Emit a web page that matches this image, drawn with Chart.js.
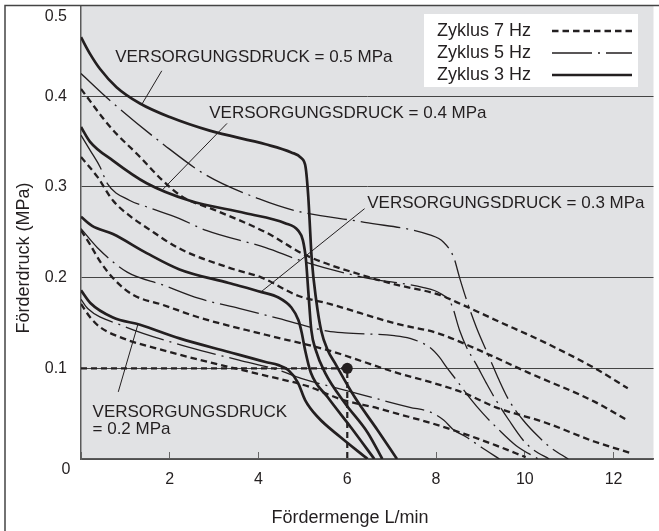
<!DOCTYPE html>
<html>
<head>
<meta charset="utf-8">
<script src="https://cdn.jsdelivr.net/npm/chart.js@4/dist/chart.umd.min.js"></script>
<style>
  html, body { margin: 0; padding: 0; background: #fff; }
  canvas { display: block; }
</style>
</head>
<body>
<canvas id="myChart" width="659" height="531"></canvas>
<script>
// points are [Fördermenge L/min, Förderdruck MPa]
const p05_3hz = [[0, 0.465], [0.2, 0.447], [0.43, 0.43], [0.8, 0.41], [1.33, 0.392], [2.0, 0.377], [2.9, 0.362], [4.16, 0.347], [4.74, 0.338], [4.96, 0.332], [5.06, 0.322], [5.12, 0.29], [5.2, 0.22], [5.3, 0.175], [5.41, 0.142], [5.56, 0.12], [5.72, 0.106], [6.17, 0.068], [6.68, 0.032], [7.12, 0]];
const p04_3hz = [[0, 0.366], [0.2, 0.35], [0.72, 0.329], [1.48, 0.304], [2.44, 0.285], [3.71, 0.271], [4.6, 0.26], [4.89, 0.252], [5.0, 0.241], [5.07, 0.219], [5.12, 0.186], [5.19, 0.142], [5.29, 0.12], [5.5, 0.095], [5.94, 0.062], [6.46, 0.029], [6.79, 0]];
const p03_3hz = [[0, 0.267], [0.25, 0.257], [0.72, 0.248], [1.48, 0.227], [2.22, 0.209], [3.33, 0.194], [4.07, 0.184], [4.45, 0.178], [4.74, 0.167], [4.9, 0.153], [4.97, 0.14], [5.05, 0.12], [5.18, 0.095], [5.56, 0.068], [6.08, 0.035], [6.61, 0]];
const p02_3hz = [[0, 0.186], [0.21, 0.172], [0.72, 0.156], [1.33, 0.148], [2.22, 0.133], [3.33, 0.118], [4.16, 0.107], [4.45, 0.1035], [4.67, 0.098], [4.89, 0.084], [5.05, 0.065], [5.34, 0.046], [5.85, 0.024], [6.46, 0]];

const p05_5hz = [[0, 0.425], [0.66, 0.395], [1.88, 0.346], [2.82, 0.313], [4.0, 0.287], [4.89, 0.273], [6.39, 0.261], [7.86, 0.247], [8.17, 0.239], [8.4, 0.222], [8.53, 0.2], [8.69, 0.175], [8.91, 0.145], [9.2, 0.112], [9.42, 0.087], [9.64, 0.065], [9.96, 0.043], [10.3, 0.025], [10.6, 0.012], [10.98, 0]];
const p04_5hz = [[0, 0.357], [0.21, 0.34], [0.43, 0.322], [0.59, 0.304], [1.1, 0.285], [1.48, 0.278], [2.22, 0.265], [2.82, 0.252], [4.16, 0.233], [5.0, 0.218], [6.39, 0.2], [7.72, 0.189], [8.08, 0.183], [8.35, 0.17], [8.53, 0.142], [8.69, 0.123], [8.91, 0.104], [9.13, 0.084], [9.35, 0.065], [9.64, 0.043], [9.96, 0.021], [10.2, 0.01], [10.55, 0]];
const p03_5hz = [[0, 0.254], [0.37, 0.233], [1.04, 0.206], [1.84, 0.192], [2.66, 0.177], [3.56, 0.166], [4.45, 0.155], [5.56, 0.141], [5.94, 0.139], [7.06, 0.136], [7.41, 0.133], [7.86, 0.123], [8.08, 0.112], [8.24, 0.101], [8.46, 0.087], [8.75, 0.068], [9.06, 0.05], [9.4, 0.033], [9.8, 0.015], [10.3, 0]];
const p02_5hz = [[0, 0.176], [0.15, 0.166], [0.88, 0.148], [2.44, 0.123], [3.56, 0.109], [4.45, 0.098], [4.96, 0.089], [5.94, 0.076], [7.41, 0.057], [7.86, 0.052], [8.17, 0.043], [8.4, 0.032], [8.69, 0.024], [9.02, 0.013], [9.43, 0]];

const p05_7hz = [[0, 0.408], [0.66, 0.366], [1.33, 0.333], [1.84, 0.307], [2.29, 0.289], [3.04, 0.274], [4.16, 0.25], [5.05, 0.225], [6.52, 0.2], [7.12, 0.192], [8.08, 0.181], [8.46, 0.173], [9.35, 0.153], [10.47, 0.128], [11.58, 0.1], [12.32, 0.078]];
const p04_7hz = [[0, 0.333], [0.37, 0.311], [0.72, 0.285], [1.1, 0.268], [1.48, 0.255], [2.22, 0.232], [3.33, 0.211], [4.07, 0.2], [4.89, 0.18], [5.6, 0.171], [7.12, 0.149], [8.02, 0.139], [8.97, 0.12], [10.09, 0.095], [11.58, 0.063], [12.3, 0.043]];
const p03_7hz = [[0, 0.252], [0.21, 0.236], [0.44, 0.217], [0.77, 0.197], [1.17, 0.181], [1.84, 0.17], [2.66, 0.156], [4.16, 0.137], [5.56, 0.12], [7.12, 0.095], [7.86, 0.085], [8.62, 0.073], [9.35, 0.057], [10.47, 0.04], [11.58, 0.019], [12.36, 0.007]];
const p02_7hz = [[0, 0.171], [0.21, 0.156], [0.44, 0.145], [0.95, 0.133], [1.84, 0.12], [2.95, 0.106], [4.11, 0.0925], [5.12, 0.08], [5.85, 0.066], [6.68, 0.056], [7.12, 0.05], [7.86, 0.04], [8.62, 0.028], [9.35, 0.015], [10.02, 0.002]];

// operating point marked in the picture
const refLine = [[0, 0.1], [6, 0.1], [6, 0]];
const refPoint = [[6, 0.1]];

const cycleHz = [7, 5, 3];
const cycleLabels = ['Zyklus 7 Hz', 'Zyklus 5 Hz', 'Zyklus 3 Hz'];
const supplyNotes = ['VERSORGUNGSDRUCK = 0.5 MPa', 'VERSORGUNGSDRUCK = 0.4 MPa', 'VERSORGUNGSDRUCK = 0.3 MPa', 'VERSORGUNGSDRUCK\n= 0.2 MPa'];
const xTickValues = [2, 4, 6, 8, 10, 12];
const yTickValues = [0, 0.1, 0.2, 0.3, 0.4, 0.5];
const yTickLabels = ['0', '0.1', '0.2', '0.3', '0.4', '0.5'];
const xTitle = 'Fördermenge L/min';
const yTitle = 'Förderdruck (MPa)';

const curvesByHz = {
  7: [p05_7hz, p04_7hz, p03_7hz, p02_7hz],
  5: [p05_5hz, p04_5hz, p03_5hz, p02_5hz],
  3: [p05_3hz, p04_3hz, p03_3hz, p02_3hz],
};

const ink = '#231f20';
const family = "'Liberation Sans', Arial, sans-serif";
const styles = {
  7: { borderWidth: 2.3, borderDash: [6.5, 4] },
  5: { borderWidth: 1.3, borderDash: [40, 6, 2, 6] },
  3: { borderWidth: 2.7, borderDash: [] },
};

// text anchor (left, middle) and pointer line, in data units
const noteLayout = [
  { x: 0.77, y: 0.443, from: [1.82, 0.428], to: [1.37, 0.391] },
  { x: 2.89, y: 0.381, from: [3.29, 0.370], to: [1.84, 0.297] },
  { x: 6.45, y: 0.282, from: [6.39, 0.276], to: [4.05, 0.184] },
  { x: 0.26, y: 0.051, from: [0.84, 0.074], to: [1.28, 0.148] },
];

const toXY = (pts) => pts.map(([x, y]) => ({ x, y }));

const datasets = [];
cycleHz.forEach((hz, i) => {
  curvesByHz[hz].forEach((pts, k) => {
    datasets.push({
      label: cycleLabels[i] + ' / ' + supplyNotes[k],
      data: toXY(pts),
      borderColor: ink,
      borderWidth: styles[hz].borderWidth,
      borderDash: styles[hz].borderDash,
      pointRadius: 0,
      cubicInterpolationMode: 'monotone',
      fill: false,
    });
  });
});
datasets.push({
  label: 'ref',
  data: toXY(refLine),
  borderColor: ink,
  borderWidth: 2.2,
  borderDash: [6, 4],
  pointRadius: 0,
  tension: 0,
});
datasets.push({
  label: 'point',
  data: toXY(refPoint),
  showLine: false,
  pointRadius: 5.5,
  pointBackgroundColor: ink,
  pointBorderWidth: 0,
});

const paper = {
  id: 'paper',
  beforeDraw(chart) {
    const { ctx, chartArea: a } = chart;
    ctx.save();
    ctx.fillStyle = '#fff';
    ctx.fillRect(0, 0, chart.width, chart.height);
    ctx.fillStyle = '#e1e2e4';
    ctx.fillRect(a.left, a.top, a.right - a.left, a.bottom - a.top);
    ctx.restore();
  },
  afterDraw(chart) {
    const { ctx, chartArea: a } = chart;
    const xs = chart.scales.x;
    const ys = chart.scales.y;
    ctx.save();

    // outer frame
    ctx.strokeStyle = '#444';
    ctx.lineWidth = 1.5;
    ctx.beginPath();
    ctx.moveTo(5, chart.height);
    ctx.lineTo(5, a.top);
    ctx.lineTo(chart.width, a.top);
    ctx.stroke();

    // y tick labels
    ctx.fillStyle = ink;
    ctx.font = '16px ' + family;
    ctx.textBaseline = 'middle';
    yTickValues.forEach((v, i) => {
      let py = ys.getPixelForValue(v);
      if (v === 0) {
        ctx.textAlign = 'center';
        ctx.fillText(yTickLabels[i], 66, py + 11);
        return;
      }
      if (i === yTickValues.length - 1) py += 11;
      ctx.textAlign = 'right';
      ctx.fillText(yTickLabels[i], 67, py);
    });

    // axis titles
    ctx.font = '18px ' + family;
    ctx.textAlign = 'center';
    ctx.fillText(xTitle, 350, 518);
    ctx.save();
    ctx.translate(24, 258);
    ctx.rotate(-Math.PI / 2);
    ctx.fillText(yTitle, 0, 0);
    ctx.restore();

    // supply pressure notes with pointers
    ctx.font = '17px ' + family;
    ctx.textAlign = 'left';
    ctx.strokeStyle = ink;
    ctx.lineWidth = 1;
    supplyNotes.forEach((txt, i) => {
      const L = noteLayout[i];
      const px = xs.getPixelForValue(L.x);
      const py = ys.getPixelForValue(L.y);
      txt.split('\n').forEach((line, k) => ctx.fillText(line, px, py + k * 17));
      ctx.beginPath();
      ctx.moveTo(xs.getPixelForValue(L.from[0]), ys.getPixelForValue(L.from[1]));
      ctx.lineTo(xs.getPixelForValue(L.to[0]), ys.getPixelForValue(L.to[1]));
      ctx.stroke();
    });

    // legend box
    ctx.fillStyle = '#fff';
    ctx.fillRect(424, 14, 214, 73);
    const rows = [31, 53, 75];
    ctx.font = '18px ' + family;
    cycleLabels.forEach((lab, i) => {
      const st = styles[cycleHz[i]];
      ctx.fillStyle = ink;
      ctx.fillText(lab, 437, rows[i]);
      ctx.lineWidth = st.borderWidth;
      ctx.setLineDash(st.borderDash);
      ctx.beginPath();
      ctx.moveTo(552, rows[i]);
      ctx.lineTo(632, rows[i]);
      ctx.stroke();
      ctx.setLineDash([]);
    });

    ctx.restore();
  },
};

const ctx = document.getElementById('myChart').getContext('2d');
// eslint-disable-next-line no-new
new Chart(ctx, {
  type: 'line',
  data: { datasets },
  options: {
    responsive: false,
    devicePixelRatio: 1,
    animation: false,
    events: [],
    layout: { padding: { top: 5, left: 0, right: 0, bottom: 0 } },
    plugins: {
      legend: { display: false },
      tooltip: { enabled: false },
    },
    scales: {
      x: {
        type: 'linear',
        min: 0,
        max: 12.9,
        afterFit(s) { s.height = 72; },
        ticks: {
          stepSize: 2,
          includeBounds: false,
          padding: 18,
          color: ink,
          font: { size: 16, family },
          maxRotation: 0,
          callback: (v) => (xTickValues.includes(v) ? String(v) : ''),
        },
        grid: {
          display: true,
          drawOnChartArea: false,
          drawTicks: true,
          tickLength: -7,
          color: '#666',
          lineWidth: 1,
        },
        border: { display: true, color: '#5a5a5a', width: 1.5 },
      },
      y: {
        type: 'linear',
        min: 0,
        max: 0.5,
        afterFit(s) { s.width = 81; },
        ticks: { stepSize: 0.1, display: false },
        grid: { color: '#444', lineWidth: 1, drawTicks: false },
        border: { display: true, color: '#5a5a5a', width: 1.5 },
      },
    },
  },
  plugins: [paper],
});
</script>
</body>
</html>
